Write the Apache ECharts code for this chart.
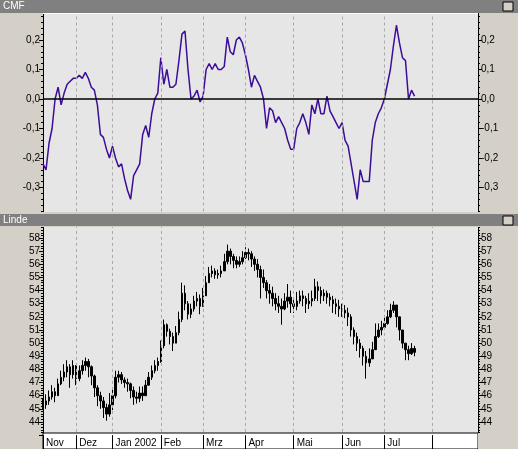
<!DOCTYPE html>
<html>
<head>
<meta charset="utf-8">
<script src="https://cdn.jsdelivr.net/npm/echarts@6/dist/echarts.min.js"></script>
<style>html,body{margin:0;padding:0;background:#d4d0c8;}#c{width:518px;height:449px;}</style>
</head>
<body>
<div id="c"></div>
<script>
// month boundaries in trading-day slots
const monthStart = [0, 11, 23, 39, 53, 67, 83, 99, 113, 129];
const monthNames = ['Nov', 'Dez', 'Jan 2002', 'Feb', 'Mrz', 'Apr', 'Mai', 'Jun', 'Jul', ''];
const slotCount = 145;

const cmf = [
  -0.22,-0.24,-0.15,-0.10,0.00,0.04,-0.02,0.02,0.05,0.06,0.07,
  0.07,0.08,0.07,0.09,0.07,0.04,0.03,-0.02,-0.12,-0.13,-0.17,-0.20,
  -0.16,-0.20,-0.23,-0.22,-0.27,-0.31,-0.34,-0.26,-0.24,-0.22,-0.12,-0.09,-0.13,-0.05,0.00,0.02,
  0.14,0.05,0.10,0.04,0.04,0.05,0.13,0.22,0.23,0.10,0.00,0.01,0.03,-0.01,
  0.01,0.10,0.12,0.10,0.12,0.10,0.10,0.11,0.21,0.16,0.15,0.20,0.21,0.19,
  0.15,0.10,0.04,0.08,0.06,0.04,0.00,-0.10,-0.03,-0.04,-0.08,-0.06,-0.08,-0.10,-0.14,-0.17,
  -0.17,-0.10,-0.08,-0.05,-0.08,-0.12,-0.02,-0.05,0.00,-0.05,-0.05,0.01,-0.04,-0.06,-0.08,-0.10,
  -0.08,-0.14,-0.16,-0.22,-0.28,-0.34,-0.24,-0.28,-0.28,-0.28,-0.14,-0.08,-0.05,-0.03,
  0.00,0.05,0.10,0.18,0.25,0.19,0.14,0.13,0.00,0.03,0.01
];

const close = [
  45.3,45.6,45.9,46.3,46.0,46.9,47.4,47.8,48.2,47.6,48.3,
  47.3,47.9,48.3,48.6,48.2,47.5,46.6,46.0,45.6,45.1,44.6,45.3,
  46.0,47.4,47.6,47.2,47.0,46.9,46.4,45.9,45.8,46.2,46.0,46.8,47.4,47.9,48.3,48.6,
  49.8,51.4,50.9,50.5,50.0,50.8,51.8,53.8,53.0,52.2,52.6,53.2,53.4,52.8,
  53.6,54.6,55.3,55.5,55.2,55.3,55.5,56.2,57.0,56.6,56.3,56.0,56.2,56.5,
  56.9,56.8,56.4,56.0,55.6,55.0,54.6,54.0,53.8,53.4,53.0,52.8,52.6,53.2,53.5,53.0,
  52.8,53.2,53.6,53.4,53.0,53.2,53.4,54.3,54.0,53.6,53.8,53.5,53.3,53.0,52.8,52.6,
  52.5,52.3,52.0,51.0,50.5,50.0,49.6,49.0,48.5,48.8,49.5,50.5,51.0,51.2,
  51.5,52.0,52.5,52.9,52.0,51.0,50.0,49.5,49.2,49.6,49.3
];
const high = [
  45.8,46.1,46.4,46.8,46.6,47.3,47.9,48.4,48.7,48.4,48.7,
  48.2,48.3,48.7,48.9,48.8,48.3,47.6,46.8,46.3,45.9,45.4,46.2,
  46.5,47.9,47.9,47.8,47.4,47.3,47.0,46.7,46.3,46.7,46.7,47.2,47.8,48.3,48.7,48.9,
  50.2,51.8,51.5,51.1,50.8,51.3,52.4,54.6,54.4,53.2,53.0,53.6,53.9,53.7,
  54.2,55.1,55.8,55.9,55.7,55.6,55.9,56.8,57.5,57.2,56.8,56.6,56.6,57.0,
  57.3,57.2,57.0,56.6,56.4,55.9,55.6,54.8,54.5,54.3,53.8,53.6,53.4,53.8,54.5,54.0,
  53.5,53.9,54.0,54.0,53.6,53.8,54.0,54.9,54.7,54.3,54.1,54.0,53.8,53.6,53.4,53.3,
  53.0,52.9,52.7,52.2,51.2,50.8,50.3,49.8,49.4,49.6,50.1,51.5,51.5,51.7,
  52.0,52.5,53.0,53.2,52.6,51.8,50.6,50.0,49.8,50.0,49.8
];
const low = [
  44.9,45.0,45.3,45.7,45.5,46.0,46.8,47.1,47.4,46.6,47.3,
  46.8,47.1,47.6,47.9,47.4,46.8,45.9,45.2,45.0,44.3,44.1,44.4,
  44.9,45.8,47.0,46.9,46.6,46.3,45.8,45.3,45.4,45.5,45.6,46.0,46.9,47.2,47.7,47.9,
  48.5,49.6,50.5,49.9,49.4,50.0,50.6,51.6,52.5,51.8,51.9,52.4,52.8,52.2,
  53.4,53.9,54.6,55.0,54.9,54.9,55.0,55.5,56.0,56.0,55.7,55.7,55.8,56.0,
  56.4,56.3,55.8,55.5,55.0,53.4,54.2,53.4,53.0,52.8,52.5,52.3,51.4,52.5,52.7,52.3,
  52.3,52.5,53.0,52.8,52.3,52.6,52.8,53.2,53.2,53.0,53.2,53.0,52.8,52.3,52.2,52.0,
  52.0,51.9,51.3,50.5,49.9,49.4,48.9,48.3,47.3,48.2,48.8,50.0,50.4,50.6,
  51.0,51.4,51.9,52.3,51.2,50.2,49.6,48.7,48.7,49.1,49.0
];

const cats = [];
for (let i = 0; i < slotCount; i++) cats.push(String(i));
const ohlc = close.map((c, i) => [i === 0 ? low[0] + 0.2 : close[i - 1], c, low[i], high[i]]);

const isMonth = (idx) => monthStart.includes(idx);
const font = {fontFamily: 'Liberation Sans, Arial, sans-serif', fontSize: 10, color: '#000'};

function xAxis(gridIndex, withLabels) {
  return {
    type: 'category', data: cats, gridIndex, boundaryGap: false, z: 20,
    axisLine: {show: false},
    axisTick: withLabels ? {show: true, interval: (i) => isMonth(i), length: 16, inside: false, lineStyle: {color: '#000'}} : {show: false},
    axisLabel: withLabels ? {
      show: true, interval: (i) => isMonth(i), align: 'left', padding: [0, 0, 0, 3], margin: 3,
      formatter: (v) => monthNames[monthStart.indexOf(Number(v))] || '', ...font
    } : {show: false},
    splitLine: {show: true, interval: (i) => isMonth(i) && i > 0, lineStyle: {color: '#a8a8a8', type: [3, 3]}}
  };
}
function yAxis(gridIndex, pos, min, max, interval, fmt) {
  return {
    type: 'value', gridIndex, position: pos, min, max, interval,
    axisLine: {show: true, lineStyle: {color: '#000'}},
    axisTick: {show: true, length: 4, lineStyle: {color: '#000'}},
    minorTick: {show: true, splitNumber: 5, length: 2, lineStyle: {color: '#000'}},
    axisLabel: {formatter: fmt, margin: 3, ...font},
    splitLine: {show: false}
  };
}
const cmfFmt = (v) => (v < -0.35 || v > 0.25) ? '' : (Math.round(v * 10) / 10).toFixed(1).replace('.', ',');
const pxFmt = (v) => (v < 44 || v > 58) ? '' : String(Math.round(v));

const chart = echarts.init(document.getElementById('c'));
chart.setOption({
  animation: false,
  backgroundColor: '#d4d0c8',
  grid: [
    {left: 43, right: 40, top: 10.5, height: 206.5, backgroundColor: '#e6e6e6', show: true, borderWidth: 0},
    {left: 43, right: 40, top: 224.9, height: 210.2, backgroundColor: '#e6e6e6', show: true, borderWidth: 0}
  ],
  xAxis: [xAxis(0, false), xAxis(1, true)],
  yAxis: [
    yAxis(0, 'left', -0.4, 0.3, 0.1, cmfFmt),
    yAxis(0, 'right', -0.4, 0.3, 0.1, cmfFmt),
    yAxis(1, 'left', 43, 59, 1, pxFmt),
    yAxis(1, 'right', 43, 59, 1, pxFmt)
  ],
  graphic: [
    {type: 'rect', z: 100, shape: {x: 0, y: 0, width: 518, height: 13}, style: {fill: '#808080'}},
    {type: 'text', z: 101, left: 3, top: 1, style: {text: 'CMF', fill: '#fff', font: '10px Liberation Sans'}},
    {type: 'rect', z: 100, shape: {x: 0, y: 212, width: 518, height: 15}, style: {fill: '#d4d0c8'}},
    {type: 'rect', z: 100, shape: {x: 0, y: 214, width: 518, height: 12}, style: {fill: '#808080'}},
    {type: 'text', z: 101, left: 3, top: 215, style: {text: 'Linde', fill: '#fff', font: '10px Liberation Sans'}},
    {type: 'rect', z: 1, shape: {x: 43, y: 433, width: 435, height: 16}, style: {fill: '#fff', stroke: '#000', lineWidth: 1}},
    {type: 'rect', z: 1, shape: {x: 478, y: 433, width: 40, height: 16}, style: {fill: '#d4d0c8'}},
    {type: 'rect', z: 100, shape: {x: 43, y: 13, width: 435, height: 1}, style: {fill: '#fff'}},
    {type: 'rect', z: 101, shape: {x: 503, y: 2, width: 10, height: 9}, style: {fill: '#d4d0c8', stroke: '#000'}},
    {type: 'rect', z: 101, shape: {x: 503, y: 216, width: 10, height: 9}, style: {fill: '#d4d0c8', stroke: '#000'}}
  ],
  series: [
    {
      type: 'line', xAxisIndex: 0, yAxisIndex: 0, data: cmf, symbol: 'none',
      lineStyle: {color: '#3d0d99', width: 1.5},
      markLine: {silent: true, symbol: 'none', label: {show: false}, lineStyle: {color: '#000', width: 1.5, type: 'solid'}, data: [{yAxis: 0}]}
    },
    {
      type: 'candlestick', xAxisIndex: 1, yAxisIndex: 2, data: ohlc, barWidth: 2,
      itemStyle: {color: '#000', color0: '#000', borderColor: '#000', borderColor0: '#000', borderWidth: 1}
    }
  ]
});
</script>
</body>
</html>
